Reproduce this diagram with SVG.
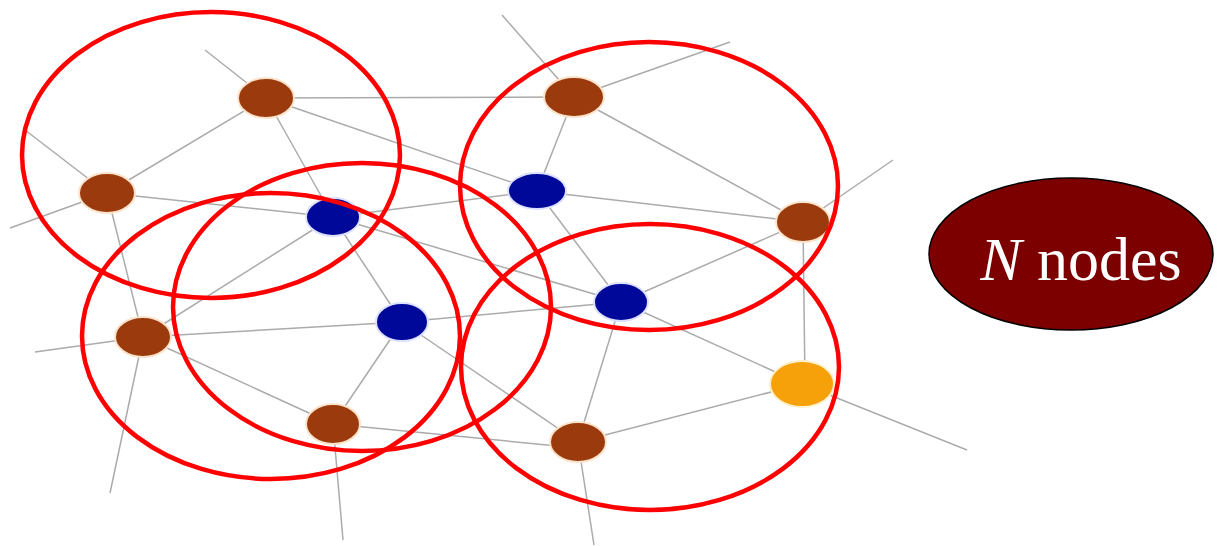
<svg xmlns="http://www.w3.org/2000/svg" width="1222" height="546" viewBox="0 0 1222 546">
<style>
.e{stroke:#ababab;stroke-width:1.5;fill:none}
.br{fill:#9b3a0c;stroke:#fbe3cc;stroke-width:2}
.bl{fill:#00089a;stroke:#dde0ff;stroke-width:2}
.or{fill:#f7a10a;stroke:#fff0cc;stroke-width:2}
.cl{fill:none;stroke:#f00;stroke-width:4.5}
</style>
<rect width="1222" height="546" fill="#fff"/>
<g id="connectors">
<line class="e" x1="266" y1="98" x2="205" y2="50"/>
<line class="e" x1="107" y1="193" x2="25" y2="130"/>
<line class="e" x1="107" y1="193" x2="10" y2="228"/>
<line class="e" x1="574" y1="97" x2="502" y2="15"/>
<line class="e" x1="574" y1="97" x2="730" y2="42"/>
<line class="e" x1="803" y1="222" x2="893" y2="160"/>
<line class="e" x1="143" y1="337" x2="35" y2="352"/>
<line class="e" x1="143" y1="337" x2="110" y2="493"/>
<line class="e" x1="333" y1="424" x2="343" y2="540"/>
<line class="e" x1="802" y1="384" x2="967" y2="450"/>
<line class="e" x1="578" y1="442" x2="594" y2="545"/>
<line class="e" x1="266" y1="98" x2="574" y2="97"/>
<line class="e" x1="266" y1="98" x2="537" y2="191"/>
<line class="e" x1="266" y1="98" x2="107" y2="193"/>
<line class="e" x1="266" y1="98" x2="333" y2="217"/>
<line class="e" x1="107" y1="193" x2="333" y2="217"/>
<line class="e" x1="107" y1="193" x2="143" y2="337"/>
<line class="e" x1="333" y1="217" x2="537" y2="191"/>
<line class="e" x1="333" y1="217" x2="143" y2="337"/>
<line class="e" x1="333" y1="217" x2="402" y2="322"/>
<line class="e" x1="333" y1="217" x2="621" y2="302"/>
<line class="e" x1="574" y1="97" x2="537" y2="191"/>
<line class="e" x1="574" y1="97" x2="803" y2="222"/>
<line class="e" x1="537" y1="191" x2="803" y2="222"/>
<line class="e" x1="537" y1="191" x2="621" y2="302"/>
<line class="e" x1="803" y1="222" x2="805" y2="384"/>
<line class="e" x1="803" y1="222" x2="621" y2="302"/>
<line class="e" x1="143" y1="337" x2="402" y2="322"/>
<line class="e" x1="143" y1="337" x2="333" y2="424"/>
<line class="e" x1="402" y1="322" x2="621" y2="302"/>
<line class="e" x1="402" y1="322" x2="333" y2="424"/>
<line class="e" x1="402" y1="322" x2="578" y2="442"/>
<line class="e" x1="333" y1="424" x2="578" y2="448"/>
<line class="e" x1="621" y1="302" x2="802" y2="384"/>
<line class="e" x1="621" y1="302" x2="578" y2="442"/>
<line class="e" x1="802" y1="384" x2="578" y2="442"/>
</g>
<g id="node-a"><ellipse class="br" cx="266" cy="98" rx="28" ry="20"/></g>
<g id="node-b"><ellipse class="br" cx="107" cy="193" rx="28" ry="20"/></g>
<g id="node-c"><ellipse class="bl" cx="333" cy="217" rx="27" ry="19"/></g>
<g id="node-d"><ellipse class="br" cx="574" cy="97" rx="30" ry="20"/></g>
<g id="node-e"><ellipse class="bl" cx="537" cy="191" rx="29" ry="18"/></g>
<g id="node-f"><ellipse class="br" cx="803" cy="222" rx="27" ry="20"/></g>
<g id="node-g"><ellipse class="br" cx="143" cy="337" rx="28" ry="20"/></g>
<g id="node-h"><ellipse class="bl" cx="402" cy="322" rx="26" ry="19"/></g>
<g id="node-i"><ellipse class="br" cx="333" cy="424" rx="27" ry="20"/></g>
<g id="node-j"><ellipse class="bl" cx="621" cy="302" rx="27" ry="19"/></g>
<g id="node-k"><ellipse class="or" cx="802" cy="384" rx="32" ry="23"/></g>
<g id="node-l"><ellipse class="br" cx="578" cy="442" rx="28" ry="20"/></g>
<g id="clusters">
<ellipse class="cl" cx="211" cy="155" rx="189" ry="143"/>
<ellipse class="cl" cx="271" cy="336" rx="189" ry="143"/>
<ellipse class="cl" cx="362" cy="307" rx="189" ry="144"/>
<ellipse class="cl" cx="649" cy="186" rx="189" ry="144"/>
<ellipse class="cl" cx="650" cy="367" rx="189" ry="143"/>
</g>
<g id="legend">
<ellipse cx="1071" cy="254" rx="142" ry="76" fill="#7c0000" stroke="#000" stroke-width="1.5"/>
<text x="1081" y="280" text-anchor="middle" font-family="Liberation Serif, serif" font-size="62" fill="#fff"><tspan font-style="italic">N</tspan> nodes</text>
</g>
</svg>
